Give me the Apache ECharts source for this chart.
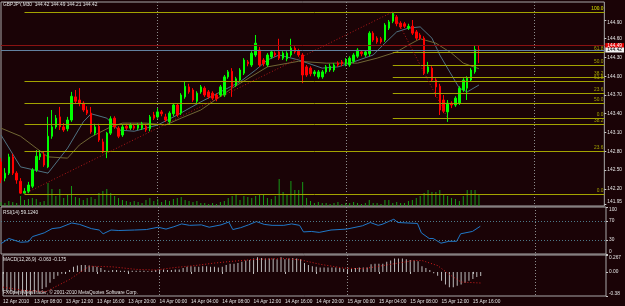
<!DOCTYPE html>
<html>
<head>
<meta charset="utf-8">
<script src="https://cdn.jsdelivr.net/npm/echarts@6/dist/echarts.min.js"></script>
<style>
html, body { margin: 0; padding: 0; background: #1a0306; }
#main { width: 625px; height: 306px; }
</style>
</head>
<body>
<div id="main"></div>
<script>
var myChart = echarts.init(document.getElementById("main"));

// GBPJPY M30, one bar per half hour from 13 Apr 04:00
const opens = [
  142.63, 142.37, 142.45, 142.71, 142.45, 142.32, 142.13, 142.16, 142.24, 142.50,
  142.71, 142.74, 142.55, 143.04, 143.19, 143.35, 143.19, 143.16, 143.30, 143.67,
  143.62, 143.57, 143.46, 143.41, 143.09, 143.20, 142.95, 142.79, 143.09, 143.33,
  143.17, 143.06, 143.20, 143.17, 143.20, 143.17, 143.17, 143.20, 143.16, 143.38,
  143.35, 143.43, 143.35, 143.27, 143.40, 143.54, 143.41, 143.67, 143.83, 143.78,
  143.60, 143.75, 143.81, 143.75, 143.73, 143.70, 143.70, 143.70, 143.99, 144.08,
  143.86, 143.94, 144.05, 144.23, 144.18, 144.34, 144.42, 144.26, 144.18, 144.31,
  144.37, 144.39, 144.29, 144.28, 144.34, 144.45, 144.40, 144.34, 144.15, 144.13,
  144.04, 143.99, 143.99, 144.07, 144.10, 144.10, 144.21, 144.23, 144.20, 144.18,
  144.24, 144.32, 144.39, 144.34, 144.36, 144.69, 144.61, 144.60, 144.58, 144.77,
  144.88, 144.95, 144.85, 144.84, 144.77, 144.80, 144.71, 144.66, 144.61, 144.07,
  144.13, 143.94, 143.84, 143.62, 143.43, 143.57, 143.54, 143.57, 143.78, 143.81,
  143.94, 144.07, 144.42
];
const closes = [
  142.34, 142.45, 142.71, 142.45, 142.34, 142.13, 142.16, 142.26, 142.50, 142.72,
  142.76, 142.58, 143.04, 143.19, 143.33, 143.19, 143.14, 143.30, 143.68, 143.60,
  143.57, 143.46, 143.41, 143.11, 143.19, 142.98, 142.79, 143.09, 143.32, 143.19,
  143.04, 143.19, 143.17, 143.22, 143.17, 143.22, 143.24, 143.14, 143.35, 143.33,
  143.43, 143.40, 143.30, 143.41, 143.54, 143.38, 143.70, 143.84, 143.75, 143.62,
  143.73, 143.83, 143.70, 143.67, 143.65, 143.64, 143.83, 143.99, 144.07, 143.83,
  143.96, 144.10, 144.26, 144.20, 144.37, 144.53, 144.18, 144.20, 144.34, 144.39,
  144.34, 144.29, 144.37, 144.37, 144.45, 144.39, 144.34, 144.02, 144.02, 144.04,
  144.07, 144.07, 144.07, 144.15, 144.16, 144.18, 144.18, 144.20, 144.26, 144.29,
  144.34, 144.42, 144.36, 144.39, 144.69, 144.58, 144.55, 144.55, 144.82, 144.87,
  145.01, 144.84, 144.79, 144.80, 144.80, 144.69, 144.61, 144.61, 144.05, 144.15,
  143.94, 143.83, 143.46, 143.44, 143.57, 143.54, 143.65, 143.81, 143.94, 143.97,
  144.10, 144.43, 144.42
];
const lows = [
  142.29, 142.32, 142.42, 142.42, 142.28, 142.12, 142.12, 142.13, 142.21, 142.47,
  142.66, 142.55, 142.53, 143.00, 143.16, 143.14, 143.11, 143.12, 143.27, 143.57,
  143.52, 143.43, 143.38, 143.08, 143.06, 142.95, 142.77, 142.69, 143.06, 143.16,
  143.01, 143.03, 143.14, 143.14, 143.14, 143.14, 143.14, 143.11, 143.12, 143.30,
  143.32, 143.36, 143.27, 143.24, 143.36, 143.35, 143.38, 143.64, 143.72, 143.59,
  143.57, 143.72, 143.67, 143.64, 143.62, 143.60, 143.67, 143.67, 143.96, 143.67,
  143.83, 143.91, 144.02, 144.16, 144.15, 144.31, 144.15, 144.16, 144.15, 144.28,
  144.31, 144.26, 144.26, 144.24, 144.31, 144.36, 144.31, 143.89, 143.99, 144.00,
  144.00, 143.96, 143.96, 144.04, 144.07, 144.07, 144.15, 144.16, 144.16, 144.15,
  144.21, 144.29, 144.32, 144.31, 144.32, 144.55, 144.52, 144.52, 144.55, 144.74,
  144.85, 144.80, 144.76, 144.77, 144.74, 144.66, 144.58, 144.58, 144.02, 144.04,
  143.91, 143.67, 143.38, 143.41, 143.27, 143.49, 143.51, 143.54, 143.75, 143.62,
  143.91, 144.04, 144.21
];
const highs = [
  142.69, 142.53, 142.76, 142.76, 142.48, 142.37, 142.21, 142.31, 142.53, 142.82,
  142.82, 142.79, 143.35, 143.46, 143.38, 143.51, 143.25, 143.35, 143.75, 143.78,
  143.81, 143.60, 143.52, 143.51, 143.24, 143.24, 143.00, 143.11, 143.36, 143.36,
  143.20, 143.22, 143.24, 143.25, 143.24, 143.25, 143.27, 143.24, 143.38, 143.43,
  143.49, 143.46, 143.40, 143.44, 143.57, 143.57, 143.73, 143.91, 143.88, 143.81,
  143.76, 143.86, 143.84, 143.78, 143.76, 143.73, 143.86, 144.02, 144.10, 144.13,
  143.99, 144.13, 144.29, 144.26, 144.40, 144.66, 144.47, 144.29, 144.37, 144.42,
  144.40, 144.60, 144.40, 144.40, 144.60, 144.48, 144.44, 144.37, 144.18, 144.16,
  144.10, 144.10, 144.10, 144.18, 144.20, 144.21, 144.24, 144.26, 144.29, 144.32,
  144.37, 144.45, 144.42, 144.42, 144.72, 144.72, 144.64, 144.63, 144.85, 144.90,
  145.03, 144.98, 144.88, 144.87, 144.84, 144.90, 144.74, 144.69, 144.64, 144.23,
  144.16, 143.97, 143.88, 143.70, 143.62, 143.60, 143.68, 143.84, 143.97, 144.00,
  144.13, 144.50, 144.49
];
const volumes = [
  40, 30, 50, 40, 30, 100, 60, 70, 80, 70, 40, 50,
  230, 170, 100, 170, 80, 120, 200, 90, 80,
  60, 80, 90, 70, 130, 150, 170, 130, 100, 80,
  60, 50, 40, 50, 40, 30, 60, 80, 50, 70,
  40, 60, 50, 70, 80, 90, 60, 50, 40, 50,
  30, 30, 20, 30, 20, 40, 50, 80, 100, 110,
  60, 100, 90, 80, 100, 110, 120, 80, 70, 100,
  270, 140, 110, 250, 160, 160, 240, 80, 50, 30,
  40, 30, 30, 20, 30, 40, 20, 30, 30, 40,
  30, 20, 30, 60, 30, 30, 20, 60, 60, 30,
  40, 30, 30, 50, 60, 80, 100, 130, 160, 140,
  140, 160, 110, 100, 80, 70, 50, 100, 160, 160, 160, 110
];
// moving averages read at [bar, price]
const fastMA = [
  [0, 143.06], [5, 142.55], [12, 142.45], [17, 142.85], [21, 143.27], [23, 143.40],
  [27, 143.33], [30, 143.14], [34, 143.12], [37, 143.17], [40, 143.22], [45, 143.38],
  [51, 143.59], [56, 143.75], [61, 143.91], [65, 144.10], [68, 144.26], [71, 144.34],
  [76, 144.26], [82, 144.13], [86, 144.15], [90, 144.23], [95, 144.34], [98, 144.53],
  [101, 144.71], [104, 144.77], [107, 144.79], [110, 144.61], [112, 144.34], [115, 144.02],
  [117, 143.81], [119, 143.75], [122, 143.86]
];
const slowMA = [
  [0, 143.17], [5, 143.04], [9, 142.85], [12, 142.71], [17, 142.69], [20, 142.90],
  [23, 143.03], [28, 143.19], [31, 143.25], [37, 143.25], [42, 143.22], [46, 143.33],
  [51, 143.46], [59, 143.81], [68, 144.15], [76, 144.24], [83, 144.21], [87, 144.21],
  [91, 144.21], [96, 144.29], [101, 144.39], [104, 144.50], [107, 144.60], [111, 144.53],
  [115, 144.37], [118, 144.21], [122, 144.12]
];
const rsiPoints = [
  [0, 22], [2, 33], [5, 25], [7, 26], [8, 37], [11, 45], [13, 54], [15, 56], [18, 66],
  [20, 63], [23, 54], [25, 51], [26, 43], [28, 51], [30, 50], [34, 51], [37, 52],
  [40, 57], [42, 53], [44, 58], [46, 64], [48, 61], [51, 62], [53, 57], [56, 62],
  [58, 68], [59, 52], [61, 56], [63, 62], [65, 69], [67, 63], [69, 61], [72, 61],
  [74, 64], [76, 61], [77, 47], [79, 48], [81, 46], [84, 51], [88, 53], [92, 60],
  [94, 67], [96, 61], [97, 63], [100, 74], [101, 67], [106, 65], [107, 45], [109, 33],
  [110, 33], [112, 23], [114, 27], [116, 27], [117, 43], [120, 48], [122, 59]
];
const macdHist = [
  -0.31, -0.32, -0.33, -0.34, -0.36, -0.37, -0.38, -0.37, -0.35, -0.31, -0.27,
  -0.24, -0.17, -0.11, -0.06, -0.03, -0.01,
  0.03, 0.08, 0.10, 0.11, 0.11, 0.10, 0.09, 0.08, 0.06,
  0.03, 0.02, 0.03, 0.03, 0.02, 0.02, 0.02, 0.02, 0.02, 0.02, 0.02, 0.01, 0.02,
  0.03, 0.04, 0.04, 0.03, 0.03, 0.04, 0.04,
  0.06, 0.08, 0.09, 0.08, 0.08, 0.09, 0.09, 0.08, 0.08, 0.07, 0.08, 0.11, 0.13,
  0.13, 0.14, 0.16, 0.18, 0.19, 0.21, 0.23, 0.22, 0.21, 0.21, 0.21, 0.20, 0.23, 0.20, 0.21, 0.22,
  0.21, 0.20, 0.14, 0.11, 0.09, 0.08, 0.07,
  0.07, 0.07, 0.07, 0.07, 0.06, 0.05, 0.05, 0.05, 0.06, 0.07, 0.07,
  0.07, 0.12, 0.13, 0.13, 0.13, 0.16, 0.18,
  0.21, 0.21, 0.21, 0.20, 0.19, 0.18, 0.17,
  0.09, 0.06, 0.03, -0.02, -0.06, -0.14,
  -0.20, -0.24, -0.24, -0.22, -0.20, -0.17,
  -0.14, -0.11, -0.08, -0.063
];
const macdSignal = [
  [0, -0.24], [5, -0.29], [11, -0.31], [17, -0.12], [22, 0.09], [28, 0.08], [34, 0.04],
  [39, 0.03], [44, 0.07], [49, 0.10], [54, 0.14], [59, 0.17], [65, 0.20], [72, 0.21],
  [76, 0.19], [81, 0.12], [87, 0.06], [92, 0.05], [100, 0.13], [105, 0.18], [107, 0.18],
  [111, 0.10], [114, -0.04], [117, -0.16], [122, -0.175]
];

const slotCount = 155;
const timeTicks = [
  [0, "12 Apr 2010"], [8, "13 Apr 08:00"], [16, "13 Apr 12:00"], [24, "13 Apr 16:00"],
  [32, "13 Apr 20:00"], [40, "14 Apr 00:00"], [48, "14 Apr 04:00"], [56, "14 Apr 08:00"],
  [64, "14 Apr 12:00"], [72, "14 Apr 16:00"], [80, "14 Apr 20:00"], [88, "15 Apr 00:00"],
  [96, "15 Apr 04:00"], [104, "15 Apr 08:00"], [112, "15 Apr 12:00"], [120, "15 Apr 16:00"]
];
const daySeparators = [40, 88, 136];
const priceTicks = [141.95, 142.2, 142.5, 142.8, 143.1, 143.4, 143.7, 144.0, 144.3, 144.6, 144.9];
const rsiTicks = [0, 30, 70, 100];
const rsiLevels = [70, 30];
const macdTicks = [-0.38, 0, 0.267];
const fibLevels = [0, 23.6, 38.2, 50, 61.8, 100];
const fibA = { start: 6, low: 142.12, high: 145.03 };
const fibB = { start: 100, low: 143.33, high: 145.03 };
const bid = 144.42, ask = 144.49;

const textColor = "#e4e4e4";
const font = "Liberation Sans";
const fibColor = "#a3a300";
const cats = Array.from({ length: slotCount }, (_, i) => String(i));
const tickMap = new Map(timeTicks);

function fibLines(f) {
  return fibLevels.map((lv) => {
    const price = f.low + ((f.high - f.low) * lv) / 100;
    return [
      { name: lv.toFixed(1), coord: [f.start, price] },
      { coord: [slotCount - 1, price] },
    ];
  });
}

function xAxisFor(gridIndex, showLabels) {
  return {
    type: "category",
    gridIndex: gridIndex,
    data: cats,
    boundaryGap: false,
    axisLine: { show: false },
    axisTick: {
      show: showLabels,
      interval: (i) => tickMap.has(i),
      length: 2,
      lineStyle: { color: "#c8c8c8" },
    },
    axisLabel: {
      show: showLabels,
      interval: (i) => tickMap.has(i),
      formatter: (v, i) => tickMap.get(i) || "",
      align: "left",
      margin: 3,
      color: textColor,
      fontSize: 4.8,
      fontFamily: font,
    },
    splitLine: {
      show: true,
      interval: (i) => daySeparators.includes(i),
      lineStyle: { color: "#8c8c8c", type: [1, 2], width: 1 },
    },
  };
}

function sideAxis(gridIndex, min, max, ticks, fmt) {
  return {
    type: "value",
    gridIndex: gridIndex,
    position: "right",
    min: min,
    max: max,
    axisLine: { show: false },
    splitLine: { show: false },
    axisTick: { show: true, customValues: ticks, length: 2, lineStyle: { color: "#c8c8c8" } },
    axisLabel: {
      customValues: ticks,
      formatter: fmt,
      margin: 3,
      color: textColor,
      fontSize: 4.8,
      fontFamily: font,
      verticalAlignMinLabel: "bottom",
      verticalAlignMaxLabel: "top",
    },
  };
}

const gridStyle = { show: true, borderColor: "#a8a8a8", borderWidth: 1 };

option = {
  backgroundColor: "#1a0306",
  animation: false,
  grid: [
    Object.assign({ left: 1, width: 605, top: 2, height: 204 }, gridStyle),
    Object.assign({ left: 1, width: 605, top: 207, height: 47 }, gridStyle),
    Object.assign({ left: 1, width: 605, top: 255, height: 41 }, gridStyle),
  ],
  xAxis: [xAxisFor(0, false), xAxisFor(1, false), xAxisFor(2, true)],
  yAxis: [
    sideAxis(0, 141.924, 145.188, priceTicks, (v) => v.toFixed(2)),
    { type: "value", gridIndex: 0, min: 0, max: 2040, show: false },
    sideAxis(1, 0, 100, rsiTicks, (v) => String(v)),
    sideAxis(2, -0.38, 0.267, macdTicks, (v) => (v === 0 ? "0.00" : String(v))),
  ],
  graphic: [
    { type: "text", left: 3, top: 2, style: { text: "GBPJPY,M30  144.42 144.49 144.21 144.42", fill: textColor, fontSize: 4.8, fontFamily: font } },
    { type: "text", left: 3, top: 210, style: { text: "RSI(14) 59.1240", fill: textColor, fontSize: 4.8, fontFamily: font } },
    { type: "text", left: 3, top: 257, style: { text: "MACD(12,26,9) -0.063 -0.175", fill: textColor, fontSize: 4.8, fontFamily: font } },
    { type: "text", left: 3, top: 290, style: { text: "FXOpen/MetaTrader, \u00a9 2001-2010 MetaQuotes Software Corp.", fill: textColor, fontSize: 4.8, fontFamily: font } },
  ],
  series: [
    {
      name: "Volumes",
      type: "bar",
      xAxisIndex: 0,
      yAxisIndex: 1,
      barWidth: 1,
      z: 1,
      itemStyle: { color: "#169a16" },
      data: volumes,
    },
    {
      name: "GBPJPY",
      type: "candlestick",
      xAxisIndex: 0,
      yAxisIndex: 0,
      barWidth: 2,
      z: 4,
      itemStyle: {
        color: "#00ff00",
        color0: "#ff0000",
        borderColor: "#00ff00",
        borderColor0: "#ff0000",
        borderWidth: 1,
      },
      data: opens.map((o, i) => [o, closes[i], lows[i], highs[i]]),
      markLine: {
        silent: true,
        symbol: ["none", "none"],
        animation: false,
        lineStyle: { color: fibColor, width: 1, type: "solid" },
        label: {
          show: true,
          position: "insideEndTop",
          formatter: "{b}",
          color: fibColor,
          fontSize: 4.8,
          fontFamily: font,
          distance: [1, 1],
        },
        data: [
          ...fibLines(fibA),
          ...fibLines(fibB),
          [
            { coord: [fibA.start, fibA.low], lineStyle: { color: "#b01818", type: [1, 2] }, label: { show: false } },
            { coord: [fibB.start, fibA.high] },
          ],
          [
            { coord: [fibB.start, fibB.high], lineStyle: { color: "#b01818", type: [1, 2] }, label: { show: false } },
            { coord: [114, fibB.low] },
          ],
          {
            yAxis: ask,
            lineStyle: { color: "#8a1212" },
            label: { position: "end", formatter: ask.toFixed(2), color: "#ffffff", backgroundColor: "#e00000", padding: [0, 2], distance: 1 },
          },
          {
            yAxis: bid,
            lineStyle: { color: "#6382a0" },
            label: { position: "end", formatter: bid.toFixed(2), color: "#000000", backgroundColor: "#f2f2f2", padding: [0, 2], distance: 1 },
          },
        ],
      },
    },
    {
      name: "MA fast",
      type: "line",
      xAxisIndex: 0,
      yAxisIndex: 0,
      showSymbol: false,
      z: 3,
      lineStyle: { color: "#4f7282", width: 1 },
      data: fastMA,
    },
    {
      name: "MA slow",
      type: "line",
      xAxisIndex: 0,
      yAxisIndex: 0,
      showSymbol: false,
      z: 3,
      lineStyle: { color: "#706634", width: 1 },
      data: slowMA,
    },
    {
      name: "RSI",
      type: "line",
      xAxisIndex: 1,
      yAxisIndex: 2,
      showSymbol: false,
      lineStyle: { color: "#1f78c8", width: 1 },
      data: rsiPoints,
      markLine: {
        silent: true,
        symbol: ["none", "none"],
        animation: false,
        label: { show: false },
        lineStyle: { color: "#4d7a8a", type: [1, 2], width: 1 },
        data: rsiLevels.map((v) => ({ yAxis: v })),
      },
    },
    {
      name: "MACD",
      type: "bar",
      xAxisIndex: 2,
      yAxisIndex: 3,
      barWidth: 1,
      itemStyle: { color: "#bcbcbc" },
      data: macdHist,
    },
    {
      name: "Signal",
      type: "line",
      xAxisIndex: 2,
      yAxisIndex: 3,
      showSymbol: false,
      z: 3,
      lineStyle: { color: "#d01c1c", width: 1, type: [1, 2] },
      data: macdSignal,
    },
  ],
};
myChart.setOption(option);
</script>
</body>
</html>
